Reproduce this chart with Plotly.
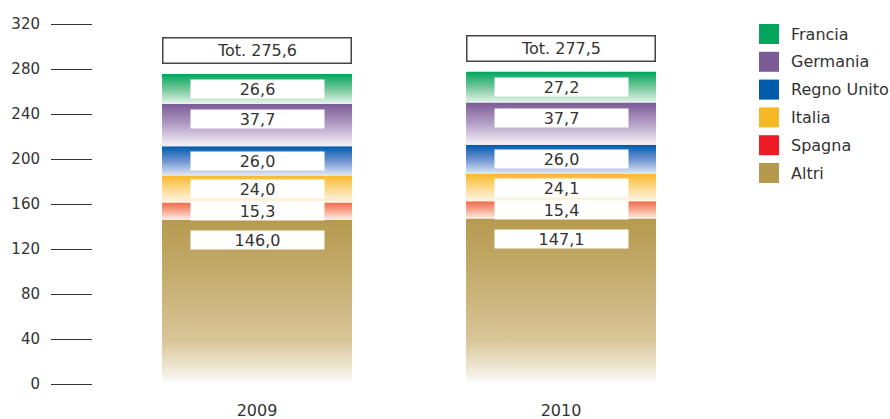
import plotly.graph_objects as go

# ---- data ----
years = ["2009", "2010"]
series_names = ["Altri", "Spagna", "Italia", "Regno Unito", "Germania", "Francia"]
altri = [146.0, 147.1]
spagna = [15.3, 15.4]
italia = [24.0, 24.1]
regno_unito = [26.0, 26.0]
germania = [37.7, 37.7]
francia = [26.6, 27.2]
totals = [275.6, 277.5]
y_ticks = [0, 40, 80, 120, 160, 200, 240, 280, 320]

series_values = [altri, spagna, italia, regno_unito, germania, francia]

# ---- styles ----
legend_colors = {
    "Francia": "#00A65D",
    "Germania": "#7B5A96",
    "Regno Unito": "#005BAA",
    "Italia": "#F7B825",
    "Spagna": "#ED1C24",
    "Altri": "#B59A4E",
}
gradients = {
    "Altri": [[0, "#FFFFFF"], [0.1, "#EFE6D3"], [0.27, "#D8C597"], [0.7, "#C3AA6A"], [1, "#B59A4E"]],
    "Spagna": [[0, "#FDF0EA"], [0.5, "#F6A88F"], [1, "#EF6A4C"]],
    "Italia": [[0, "#FFF6E6"], [0.5, "#FCD98E"], [1, "#F8B929"]],
    "Regno Unito": [[0, "#E2E9F7"], [0.5, "#6F93D2"], [1, "#005BAA"]],
    "Germania": [[0, "#F7F3F8"], [0.5, "#B4A0C6"], [1, "#7B5A96"]],
    "Francia": [[0, "#E6F4EC"], [0.5, "#74C79A"], [1, "#00A65D"]],
}
label_yshift = {"Germania": 6}
FONT = "DejaVu Sans, Verdana, sans-serif"
TXT = "#333333"
half_w = 0.3125

# figure geometry (page body margin removed in the page script below)
FIG_W, FIG_H = 890, 419
M_L, M_R, M_T, M_B = 93, 170, 24, 35
PLOT_W = FIG_W - M_L - M_R
PLOT_H = FIG_H - M_T - M_B


def px_x(px):
    return (px - M_L) / PLOT_W


def px_y(py):
    return 1 - (py - M_T) / PLOT_H


def fmt(v):
    return f"{v:.1f}".replace(".", ",")


fig = go.Figure()
annotations = []
shapes = []

for i, yr in enumerate(years):
    base = 0.0
    for k, (name, vals) in enumerate(zip(series_names, series_values)):
        v = vals[i]
        top = base + v
        fig.add_trace(go.Scatter(
            x=[i - half_w, i + half_w, i + half_w, i - half_w, i - half_w],
            y=[base, base, top, top, base],
            mode="lines", line=dict(width=0),
            fill="toself",
            fillgradient=dict(type="vertical", colorscale=gradients[name]),
            showlegend=False, hoverinfo="skip", name=name,
        ))
        if k == 0:
            ay, anchor, shift = top, "top", -10
        else:
            ay, anchor, shift = base + v / 2, "middle", label_yshift.get(name, 0)
        annotations.append(dict(
            x=i, y=ay, xref="x", yref="y", yanchor=anchor, yshift=shift,
            text=fmt(v), showarrow=False, bgcolor="white",
            width=131, height=16, borderpad=1,
            font=dict(family=FONT, size=16, color=TXT),
        ))
        base = top
    annotations.append(dict(
        x=i, y=totals[i], xref="x", yref="y", yanchor="bottom", yshift=10,
        text="Tot. " + fmt(totals[i]), showarrow=False, bgcolor="white",
        bordercolor="#444444", borderwidth=1.5, borderpad=0,
        width=187, height=24,
        font=dict(family=FONT, size=16, color=TXT),
    ))

# legend (top-to-bottom: Francia ... Altri)
LEG_SQ_X0, LEG_SQ = 759, 20
LEG_Y0, LEG_STEP = 34, 27.8
LEG_TXT_X = 788.5
for j, name in enumerate(reversed(series_names)):
    cy = LEG_Y0 + j * LEG_STEP
    shapes.append(dict(
        type="rect", xref="paper", yref="paper",
        x0=px_x(LEG_SQ_X0), x1=px_x(LEG_SQ_X0 + LEG_SQ),
        y0=px_y(cy + LEG_SQ / 2), y1=px_y(cy - LEG_SQ / 2),
        fillcolor=legend_colors[name], line=dict(width=0),
    ))
    annotations.append(dict(
        x=px_x(LEG_TXT_X), y=px_y(cy), xref="paper", yref="paper",
        xanchor="left", yanchor="middle", text=name, showarrow=False,
        font=dict(family=FONT, size=16, color=TXT),
    ))

fig.update_layout(
    width=FIG_W, height=FIG_H,
    margin=dict(l=M_L, r=M_R, t=M_T, b=M_B, autoexpand=False),
    paper_bgcolor="white", plot_bgcolor="white",
    font=dict(family=FONT, size=15, color=TXT),
    annotations=annotations,
    shapes=shapes,
    showlegend=False,
    xaxis=dict(
        range=[-0.5395, 1.523], tickvals=[0, 1], ticktext=years,
        showgrid=False, zeroline=False, showline=False, ticks="",
        ticklabelstandoff=15, fixedrange=True, automargin=False,
        tickfont=dict(family=FONT, size=16, color=TXT),
    ),
    yaxis=dict(
        range=[0, 320], tickvals=y_ticks,
        showgrid=False, zeroline=False, showline=False,
        ticks="outside", ticklen=41, tickwidth=1, tickcolor="#333333",
        ticklabelstandoff=8, fixedrange=True, automargin=False,
    ),
)

fig.write_html(
    "out.html",
    config={"displayModeBar": False},
    post_script="document.body.style.margin='0';document.body.style.overflow='hidden';",
)
